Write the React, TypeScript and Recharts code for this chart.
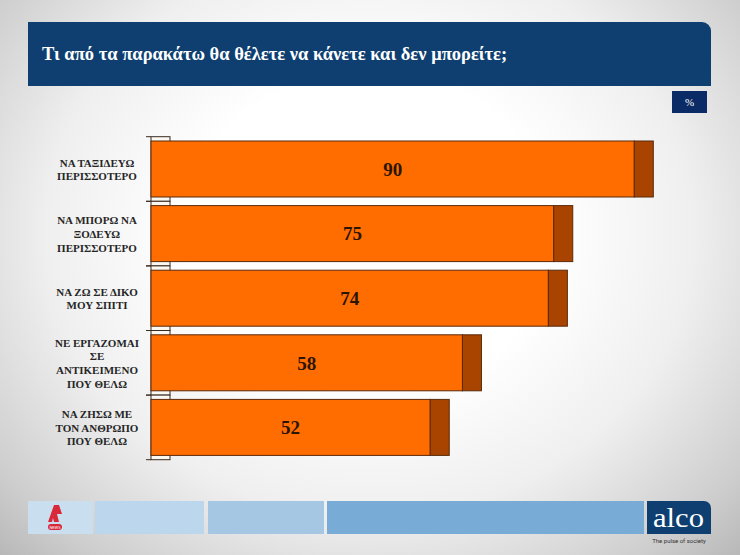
import React from "react";
import { BarChart, Bar, XAxis, YAxis, LabelList } from "recharts";

const categories = [
  "ΝΑ ΤΑΞΙΔΕΥΩ\nΠΕΡΙΣΣΟΤΕΡΟ",
  "ΝΑ ΜΠΟΡΩ ΝΑ\nΞΟΔΕΥΩ\nΠΕΡΙΣΣΟΤΕΡΟ",
  "ΝΑ ΖΩ ΣΕ ΔΙΚΟ\nΜΟΥ ΣΠΙΤΙ",
  "ΝΕ ΕΡΓΑΖΟΜΑΙ\nΣΕ\nΑΝΤΙΚΕΙΜΕΝΟ\nΠΟΥ ΘΕΛΩ",
  "ΝΑ ΖΗΣΩ ΜΕ\nΤΟΝ ΑΝΘΡΩΠΟ\nΠΟΥ ΘΕΛΩ",
];
const values = [90, 75, 74, 58, 52];

const TITLE = "Τι από τα παρακάτω θα θέλετε να κάνετε και δεν μπορείτε;";
const SERIF = '"Liberation Serif", "Times New Roman", serif';

// geometry of the plot (3D look: side cap + back wall)
const BAND = 64.6;
const BAR = 56;
const DEPTH = 19;

const data = categories.map((c, i) => ({ name: c, value: values[i] }));

const BarShape = (props: any) => {
  const { x, y, width, height } = props;
  const gap = (BAND - BAR) / 2;
  const top = y - gap;
  const bottom = y + height + gap;
  return (
    <g>
      <rect x={x} y={top} width={DEPTH} height={bottom - top} fill="#fbf8f2" stroke="#3a2a20" strokeWidth={1} />
      <line x1={x - 5} x2={x} y1={top} y2={top} stroke="#3a2a20" />
      <line x1={x - 5} x2={x} y1={bottom} y2={bottom} stroke="#3a2a20" />
      <rect x={x} y={y} width={width} height={height} fill="#ff6c00" stroke="#5b2a0a" strokeWidth={1} />
      <rect x={x + width} y={y} width={DEPTH} height={height} fill="#a84400" stroke="#5b2a0a" strokeWidth={1} />
    </g>
  );
};

const CategoryTick = (props: any) => {
  const { y, payload } = props;
  const lines = String(payload.value).split("\n");
  const lh = 13.6;
  const start = y - ((lines.length - 1) * lh) / 2;
  return (
    <text
      x={97}
      y={start}
      textAnchor="middle"
      dominantBaseline="central"
      fontFamily={SERIF}
      fontWeight="bold"
      fontSize={11}
      fill="#262626"
    >
      {lines.map((l, i) => (
        <tspan key={i} x={97} y={start + i * lh}>
          {l}
        </tspan>
      ))}
    </text>
  );
};

export default function App() {
  return (
    <div
      style={{
        position: "absolute",
        left: 0,
        top: 0,
        width: 740,
        height: 555,
        overflow: "hidden",
        background:
          "radial-gradient(ellipse at 50% 42%, #ffffff 35%, #efefef 62%, #cdcdcd 88%, #b8b8b8 100%)",
        fontFamily: SERIF,
      }}
    >
      {/* header */}
      <div
        style={{
          position: "absolute",
          left: 28,
          top: 22,
          width: 683,
          height: 64,
          background: "#0e3f70",
          borderTopRightRadius: 9,
        }}
      />
      <div
        style={{
          position: "absolute",
          left: 42,
          top: 43,
          color: "#ffffff",
          fontWeight: "bold",
          fontSize: 18.5,
          whiteSpace: "nowrap",
          lineHeight: "22px",
        }}
      >
        {TITLE}
      </div>
      <div
        style={{
          position: "absolute",
          left: 672,
          top: 91,
          width: 35,
          height: 22,
          background: "#0b2b66",
          color: "#fff",
          fontSize: 11,
          textAlign: "center",
          lineHeight: "22px",
        }}
      >
        %
      </div>

      <div style={{ position: "absolute", left: 0, top: 0 }}>
        <BarChart
          width={740}
          height={555}
          data={data}
          layout="vertical"
          margin={{ top: 137, right: 52, bottom: 95, left: 21 }}
          barSize={BAR}
        >
          <XAxis type="number" domain={[0, 100]} hide />
          <YAxis
            type="category"
            dataKey="name"
            width={130}
            axisLine={false}
            tickLine={false}
            tick={<CategoryTick />}
            interval={0}
          />
          <Bar dataKey="value" shape={<BarShape />} isAnimationActive={false}>
            <LabelList
              dataKey="value"
              position="center"
              fill="#2b1500"
              fontFamily={SERIF}
              fontWeight="bold"
              fontSize={19}
            />
          </Bar>
        </BarChart>
      </div>

      {/* footer */}
      <div style={{ position: "absolute", left: 28, top: 501, width: 65, height: 33, background: "#c9dff0" }}>
        <svg width={65} height={33} style={{ position: "absolute", left: 0, top: 0 }}>
          <path d="M20 21 L26 4 L31 4 L34 13 L29 13 L31 21 L26 21 L25 17 L24 21 Z" fill="#d8283a" />
          <rect x={20} y={23} width={14} height={6} rx={3} fill="#d8283a" />
          <text x={27} y={27.5} textAnchor="middle" fontSize={4} fill="#fff" fontFamily="Roboto, sans-serif">
            NEWS
          </text>
        </svg>
      </div>
      <div style={{ position: "absolute", left: 95, top: 501, width: 109, height: 33, background: "#bcd6ed" }} />
      <div style={{ position: "absolute", left: 208, top: 501, width: 116, height: 33, background: "#a6c7e4" }} />
      <div style={{ position: "absolute", left: 327, top: 501, width: 317, height: 33, background: "#78acd7" }} />
      <div
        style={{
          position: "absolute",
          left: 647,
          top: 501,
          width: 64,
          height: 33,
          background: "#0e3f70",
          borderTopRightRadius: 7,
        }}
      >
        <svg width={64} height={33}>
          <text x={6} y={26} textLength={51} lengthAdjust="spacingAndGlyphs" fontFamily={SERIF} fontSize={27} fill="#fff">
            alco
          </text>
        </svg>
      </div>
      <div
        style={{
          position: "absolute",
          left: 647,
          top: 537,
          width: 64,
          textAlign: "center",
          fontSize: 6,
          fontFamily: "Roboto, sans-serif",
          color: "#333",
        }}
      >
        The pulse of society
      </div>
    </div>
  );
}
